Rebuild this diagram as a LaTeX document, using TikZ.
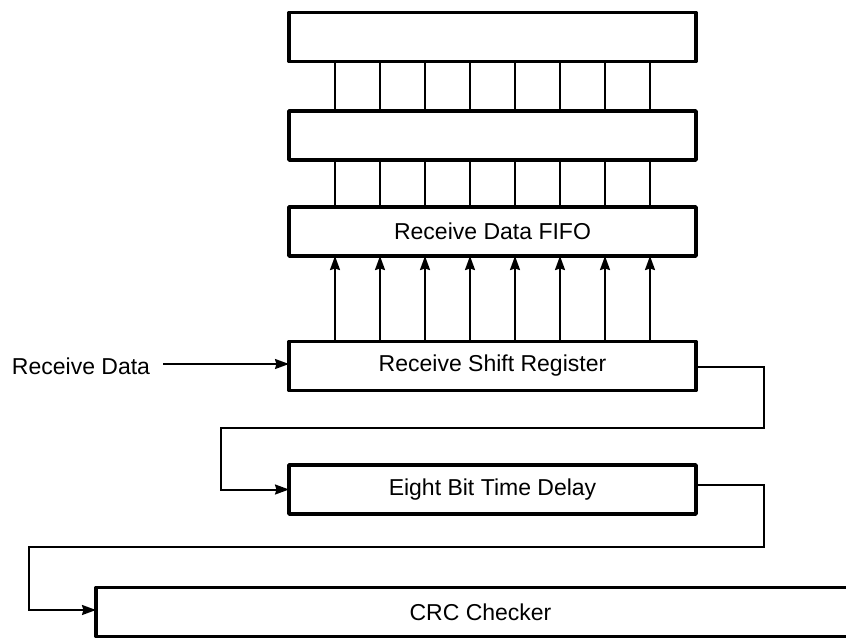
\documentclass[tikz,border=0pt]{standalone}
\usepackage{fontspec}
\setmainfont{Liberation Sans}
\usetikzlibrary{arrows.meta}
\begin{document}
\begin{tikzpicture}[x=1pt,y=-1pt,
  blk/.style={draw, line width=3.6pt, line join=round, minimum width=407pt, minimum height=49pt, inner sep=0pt, outer sep=0pt, font=\fontsize{23}{27}\selectfont},
  wire/.style={line width=2pt},
  arr/.style={wire, -{Stealth[length=14pt,width=10pt,inset=1.5pt]}},
  lbl/.style={font=\fontsize{23}{27}\selectfont, inner sep=0pt}]
\clip (0,0) rectangle (846,640);
\fill[white] (0,0) rectangle (846,640);
\node[blk] (b1) at (492.5,37) {};
\node[blk] (b2) at (492.5,135.5) {};
\node[blk] (fifo) at (492.5,231.5) {Receive Data FIFO};
\node[blk] (shift) at (492.5,366) {Receive Shift Register};
\node[blk] (eight) at (492.5,489.5) {Eight Bit Time Delay};
\node[blk, minimum width=769pt] (crc) at (480.5,612) {CRC Checker};
\node[lbl] (rd) at (81,366) {Receive Data};
\foreach \i in {0,...,7}{
  \draw[wire] ([xshift=\i*45pt-157.5pt]b1.south) -- ([xshift=\i*45pt-157.5pt]b2.north);
  \draw[wire] ([xshift=\i*45pt-157.5pt]b2.south) -- ([xshift=\i*45pt-157.5pt]fifo.north);
  \draw[arr] ([xshift=\i*45pt-157.5pt]shift.north) -- ([xshift=\i*45pt-157.5pt]fifo.south);
}
\coordinate (rdstart) at ([xshift=13pt,yshift=2pt]rd.east);
\draw[arr] (rdstart) -- (rdstart -| shift.west);
\coordinate (r1) at (764,428);
\coordinate (l1) at (221,428);
\draw[arr] ([yshift=-1pt]shift.east) -| (r1) -- (l1) |- (eight.west);
\coordinate (r2) at (764,547);
\coordinate (l2) at (29,547);
\draw[arr] ([yshift=5pt]eight.east) -| (r2) -- (l2) |- ([yshift=2pt]crc.west);
\end{tikzpicture}
\end{document}
